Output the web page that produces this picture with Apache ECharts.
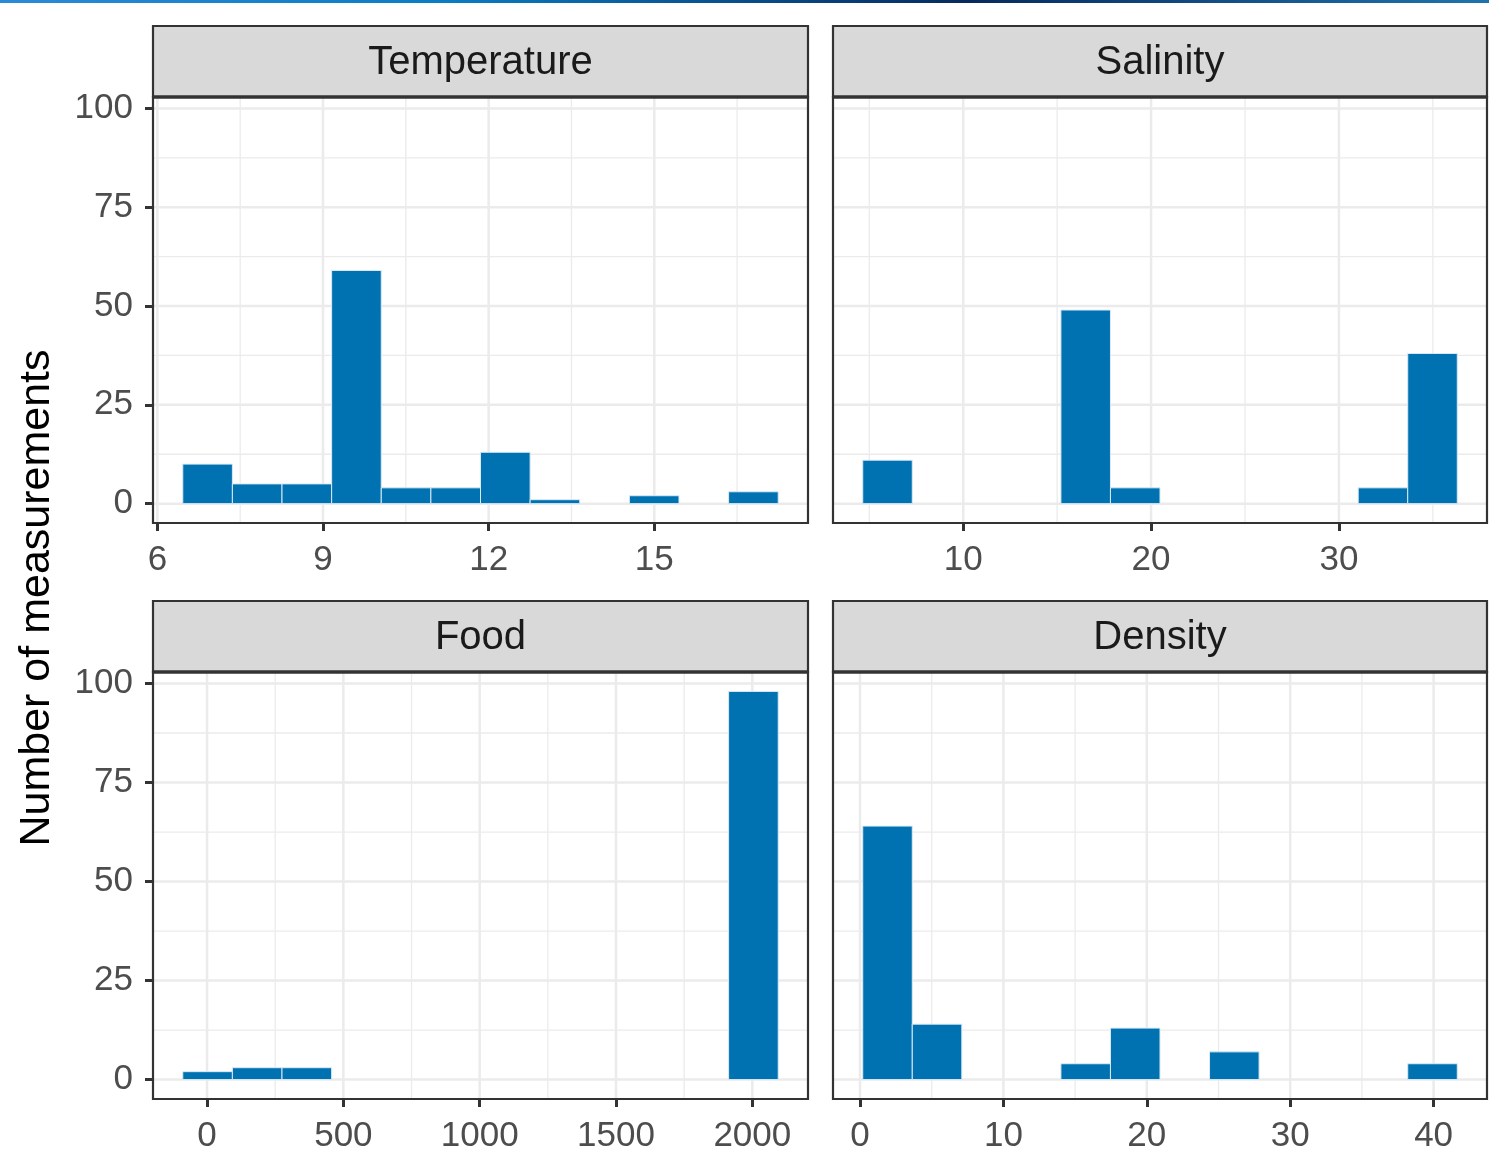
<!DOCTYPE html>
<html>
<head>
<meta charset="utf-8">
<script src="https://cdn.jsdelivr.net/npm/echarts@6/dist/echarts.min.js"></script>
<style>
  html, body { margin: 0; padding: 0; background: #fff; }
  #chart { width: 1489px; height: 1170px; }
</style>
</head>
<body>
<div id="chart"></div>
<script>
// histogram counts (12 bins each) and bin extents
const tempCounts = [10, 5, 5, 59, 4, 4, 13, 1, 0, 2, 0, 3];
const tempBinRange = [6.46, 17.245];
const salinityCounts = [11, 0, 0, 0, 49, 4, 0, 0, 0, 0, 4, 38];
const salinityBinRange = [4.65, 36.3];
const foodCounts = [2, 3, 3, 0, 0, 0, 0, 0, 0, 0, 0, 98];
const foodBinRange = [-89, 2095];
const densityCounts = [64, 14, 0, 0, 4, 13, 0, 7, 0, 0, 0, 4];
const densityBinRange = [0.19, 41.65];

// tick labels / gridline positions
const tempTicks = [6, 9, 12, 15];
const tempMinor = [7.5, 10.5, 13.5, 16.5];
const salinityTicks = [10, 20, 30];
const salinityMinor = [5, 15, 25, 35];
const foodTicks = [0, 500, 1000, 1500, 2000];
const foodMinor = [250, 750, 1250, 1750];
const densityTicks = [0, 10, 20, 30, 40];
const densityMinor = [5, 15, 25, 35];
const yTicks = [0, 25, 50, 75, 100];
const yMinor = [12.5, 37.5, 62.5, 87.5];
const yRange = [-4.9, 102.9];

const FONT = 'Liberation Sans, Arial, sans-serif';

const panels = [
  { name: 'Temperature', counts: tempCounts, bins: tempBinRange, ticks: tempTicks, minor: tempMinor, left: 153, top: 97, width: 655, height: 426, yLabels: true },
  { name: 'Salinity', counts: salinityCounts, bins: salinityBinRange, ticks: salinityTicks, minor: salinityMinor, left: 833, top: 97, width: 654, height: 426, yLabels: false },
  { name: 'Food', counts: foodCounts, bins: foodBinRange, ticks: foodTicks, minor: foodMinor, left: 153, top: 672, width: 655, height: 427, yLabels: true },
  { name: 'Density', counts: densityCounts, bins: densityBinRange, ticks: densityTicks, minor: densityMinor, left: 833, top: 672, width: 654, height: 427, yLabels: false }
];
const STRIP_H = 71;

const chart = echarts.init(document.getElementById('chart'), null, { renderer: 'canvas' });

const grids = [], xAxes = [], yAxes = [], series = [], graphics = [];

// thin gradient bar across the very top
graphics.push({
  type: 'rect', z: 10, silent: true,
  shape: { x: 0, y: 0, width: 1489, height: 3 },
  style: {
    fill: new echarts.graphic.LinearGradient(0, 0, 1, 0, [
      { offset: 0, color: '#2b8ad8' },
      { offset: 0.3, color: '#0a7cc3' },
      { offset: 0.65, color: '#072a5e' },
      { offset: 1, color: '#1f74ad' }
    ])
  }
});

const tickStyle = { color: '#333', width: 3 };

panels.forEach(function (p, i) {
  const span = p.bins[1] - p.bins[0];
  const xMin = p.bins[0] - span * 0.05;
  const xMax = p.bins[1] + span * 0.05;
  const bw = span / p.counts.length;

  grids.push({ left: p.left, top: p.top, width: p.width, height: p.height, show: false });

  xAxes.push({
    type: 'value', gridIndex: i, min: xMin, max: xMax, position: 'bottom',
    axisLine: { show: false, onZero: false },
    splitLine: { show: false },
    axisTick: { show: true, customValues: p.ticks, length: 8, lineStyle: tickStyle },
    axisLabel: {
      customValues: p.ticks, color: '#4d4d4d', fontSize: 35, fontFamily: FONT, margin: 20,
      formatter: v => String(v)
    }
  });
  yAxes.push({
    type: 'value', gridIndex: i, min: yRange[0], max: yRange[1], position: 'left',
    axisLine: { show: false, onZero: false },
    splitLine: { show: false },
    axisTick: { show: p.yLabels, customValues: yTicks, length: 8, lineStyle: tickStyle },
    axisLabel: {
      show: p.yLabels, customValues: yTicks, color: '#4d4d4d', fontSize: 35, fontFamily: FONT, margin: 20,
      formatter: v => String(v)
    }
  });

  // gridlines drawn through the axes' scales
  const lines = [];
  p.minor.forEach(v => lines.push([v, 0, 0, 1]));
  yMinor.forEach(v => lines.push([xMin, v, 1, 1]));
  p.ticks.forEach(v => lines.push([v, 0, 0, 0]));
  yTicks.forEach(v => lines.push([xMin, v, 1, 0]));
  series.push({
    type: 'custom', xAxisIndex: i, yAxisIndex: i, silent: true, z: 1,
    data: lines,
    encode: { x: 0, y: 1 },
    renderItem: function (params, api) {
      const cs = params.coordSys;
      const pt = api.coord([api.value(0), api.value(1)]);
      const vertical = api.value(2) === 0;
      const shape = vertical
        ? { x1: pt[0], y1: cs.y, x2: pt[0], y2: cs.y + cs.height }
        : { x1: cs.x, y1: pt[1], x2: cs.x + cs.width, y2: pt[1] };
      return {
        type: 'line', shape: shape,
        style: { stroke: '#ebebeb', lineWidth: api.value(3) ? 1.3 : 2.5 }
      };
    }
  });

  // histogram bars
  const bars = p.counts.map((c, k) => [p.bins[0] + k * bw, p.bins[0] + (k + 1) * bw, c]);
  series.push({
    type: 'custom', xAxisIndex: i, yAxisIndex: i, z: 3,
    data: bars,
    encode: { x: [0, 1], y: 2 },
    renderItem: function (params, api) {
      if (api.value(2) <= 0) return null;
      const p0 = api.coord([api.value(0), 0]);
      const p1 = api.coord([api.value(1), api.value(2)]);
      return {
        type: 'rect',
        shape: { x: p0[0], y: p1[1], width: p1[0] - p0[0], height: p0[1] - p1[1] },
        style: { fill: '#0072b2', stroke: '#dceaf4', lineWidth: 1 }
      };
    }
  });

  // panel border and facet strip
  graphics.push({
    type: 'rect', z: 20, silent: true,
    shape: { x: p.left, y: p.top, width: p.width, height: p.height },
    style: { fill: 'none', stroke: '#333', lineWidth: 2.2 }
  });
  graphics.push({
    type: 'rect', z: 20, silent: true,
    shape: { x: p.left, y: p.top - STRIP_H, width: p.width, height: STRIP_H },
    style: { fill: '#d9d9d9', stroke: '#333', lineWidth: 2.2 }
  });
  graphics.push({
    type: 'line', z: 21, silent: true,
    shape: { x1: p.left, y1: p.top, x2: p.left + p.width, y2: p.top },
    style: { stroke: '#333', lineWidth: 3.5 }
  });
  graphics.push({
    type: 'text', z: 21, silent: true,
    x: p.left + p.width / 2, y: p.top - STRIP_H / 2 + 1,
    style: { text: p.name, fill: '#1a1a1a', fontSize: 40, fontFamily: FONT, align: 'center', verticalAlign: 'middle' }
  });
});

// shared y axis title
graphics.push({
  type: 'text', z: 21, silent: true,
  x: 37, y: 598, rotation: Math.PI / 2,
  style: { text: 'Number of measurements', fill: '#000', fontSize: 43, fontFamily: FONT, align: 'center', verticalAlign: 'middle' }
});

const option = {
  animation: false,
  backgroundColor: '#ffffff',
  grid: grids,
  xAxis: xAxes,
  yAxis: yAxes,
  series: series,
  graphic: graphics
};
chart.setOption(option);
window.addEventListener('resize', function () {
  chart.resize();
});
</script>
</body>
</html>
